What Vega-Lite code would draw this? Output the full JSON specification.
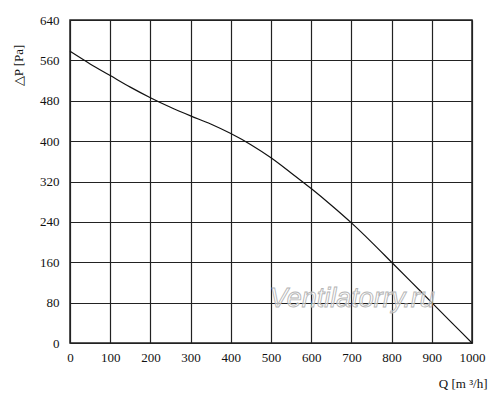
{
  "$schema": "https://vega.github.io/schema/vega-lite/v6.json",
  "width": 402,
  "height": 323,
  "autosize": {"type": "none"},
  "padding": {"left": 70, "top": 20, "right": 28, "bottom": 61},
  "background": "white",
  "datasets": {
    "curve": [
      {"Q": 0, "P": 578},
      {"Q": 50, "P": 553},
      {"Q": 100, "P": 530},
      {"Q": 150, "P": 507},
      {"Q": 200, "P": 486},
      {"Q": 250, "P": 467},
      {"Q": 300, "P": 450},
      {"Q": 350, "P": 434},
      {"Q": 400, "P": 415},
      {"Q": 450, "P": 393},
      {"Q": 500, "P": 367},
      {"Q": 550, "P": 337},
      {"Q": 600, "P": 306},
      {"Q": 650, "P": 273},
      {"Q": 700, "P": 238},
      {"Q": 750, "P": 200},
      {"Q": 800, "P": 160},
      {"Q": 850, "P": 120},
      {"Q": 900, "P": 80},
      {"Q": 950, "P": 40},
      {"Q": 1000, "P": 0}
    ],
    "mark": [
      {"Q": 702, "P": 87, "text": "Ventilatorry.ru"}
    ]
  },
  "encoding": {
    "x": {
      "field": "Q",
      "type": "quantitative",
      "scale": {"domain": [0, 1000], "nice": false, "zero": false},
      "axis": {
        "values": [0, 100, 200, 300, 400, 500, 600, 700, 800, 900, 1000],
        "format": "d",
        "title": "Q [m ³/h]",
        "titleX": 417,
        "titleY": 40,
        "titleAlign": "right",
        "titleBaseline": "middle",
        "labelPadding": 8,
        "labelFlush": false
      }
    },
    "y": {
      "field": "P",
      "type": "quantitative",
      "scale": {"domain": [0, 640], "nice": false},
      "axis": {
        "values": [0, 80, 160, 240, 320, 400, 480, 560, 640],
        "format": "d",
        "title": "△P [Pa]",
        "titleAngle": -90,
        "titleX": -52,
        "titleY": 45,
        "titleAlign": "center",
        "titleBaseline": "middle",
        "labelPadding": 11
      }
    }
  },
  "layer": [
    {
      "data": {"name": "curve"},
      "mark": {"type": "line", "color": "#111111", "strokeWidth": 1.2, "interpolate": "monotone"}
    },
    {
      "data": {"name": "mark"},
      "mark": {
        "type": "text",
        "font": "Liberation Sans",
        "fontSize": 27,
        "fontStyle": "italic",
        "fill": "#ffffff",
        "fillOpacity": 0.55,
        "stroke": "#b4b4b4",
        "strokeWidth": 0.9,
        "align": "center",
        "baseline": "middle"
      },
      "encoding": {"text": {"field": "text"}}
    }
  ],
  "config": {
    "view": {"stroke": "#222222", "strokeWidth": 1.5},
    "axis": {
      "grid": true,
      "gridColor": "#222222",
      "gridOpacity": 1,
      "gridWidth": 1.2,
      "domain": false,
      "ticks": false,
      "labelFont": "Liberation Serif",
      "labelFontSize": 13,
      "labelColor": "#111111",
      "titleFont": "Liberation Serif",
      "titleFontSize": 13,
      "titleFontWeight": "normal",
      "titleColor": "#111111"
    }
  }
}
